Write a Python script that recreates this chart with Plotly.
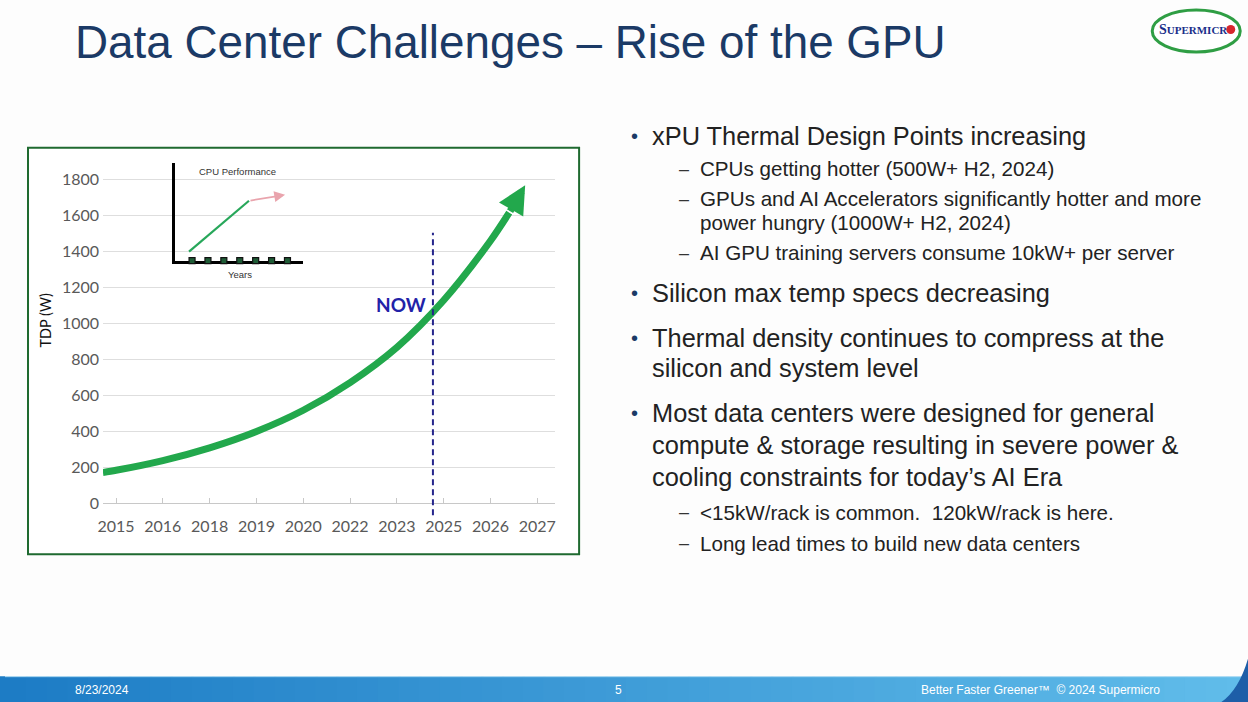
import plotly.graph_objects as go

W, H = 1248, 702

# small calibration so that slide pixel positions land where the screenshot shows them
OFF_X, SCALE_X, SCALE_Y = 5.0, 0.995, 0.987


def px(x):
    return (x - OFF_X) / SCALE_X / W


def py(y):
    return 1 - (y / SCALE_Y) / H


# ---- main chart data ----
year_labels = ["2015", "2016", "2018", "2019", "2020", "2022", "2023", "2025", "2026", "2027"]
tdp_ticks = [0, 200, 400, 600, 800, 1000, 1200, 1400, 1600, 1800]
curve_pos = [-0.28, 0, 1, 2, 3, 4, 5, 6, 7, 8, 8.4]
curve_tdp = [172, 184, 238, 309, 400, 518, 672, 868, 1130, 1461, 1617]
arrow_tip_pos = 8.74
arrow_tip_tdp = 1770
now_pos = 6.77
now_top_tdp = 1506
now_label_tdp = 1105

# ---- inset (CPU performance) data ----
inset_years = [0, 1, 2, 3, 4, 5, 6]
inset_base = [0, 0, 0, 0, 0, 0, 0]
cpu_perf_x = [-0.19, 3.58]
cpu_perf_y = [0.92, 6.12]
cpu_slow_tip_x = 5.85
cpu_slow_tip_y = 6.73

# ---- slide text ----
title_text = "Data Center Challenges – Rise of the GPU"
bullet_levels = [0, 1, 1, 1, 1, 0, 0, 0, 0, 0, 0, 1, 1]
bullet_marks = [True, True, True, False, True, True, True, False, True, False, False, True, True]
bullet_texts = [
    "xPU Thermal Design Points increasing",
    "CPUs getting hotter (500W+ H2, 2024)",
    "GPUs and AI Accelerators significantly hotter and more",
    "power hungry (1000W+ H2, 2024)",
    "AI GPU training servers consume 10kW+ per server",
    "Silicon max temp specs decreasing",
    "Thermal density continues to compress at the",
    "silicon and system level",
    "Most data centers were designed for general",
    "compute &amp; storage resulting in severe power &amp;",
    "cooling constraints for today’s AI Era",
    "&lt;15kW/rack is common.&nbsp; 120kW/rack is here.",
    "Long lead times to build new data centers",
]
footer_date = "8/23/2024"
footer_page = "5"
footer_right = "Better Faster Greener™&nbsp; © 2024 Supermicro"

GREEN = "#22a84c"
TICK_FONT = dict(family="Lato, Open Sans, sans-serif", size=16, color="#595959")
SANS = "Liberation Sans, Arial, sans-serif"

fig = go.Figure()

fig.add_trace(go.Scatter(
    x=curve_pos, y=curve_tdp, mode="lines",
    line=dict(color=GREEN, width=7, shape="spline", smoothing=0.8),
    xaxis="x", yaxis="y", hoverinfo="skip",
))
fig.add_trace(go.Scatter(
    x=cpu_perf_x, y=cpu_perf_y, mode="lines",
    line=dict(color="#27a75a", width=2.2),
    xaxis="x2", yaxis="y2", hoverinfo="skip",
))
fig.add_trace(go.Scatter(
    x=inset_years, y=inset_base, mode="markers",
    marker=dict(symbol="square", size=6, color="#1f5c36", line=dict(color="#111111", width=1.2)),
    xaxis="x2", yaxis="y2", cliponaxis=False, hoverinfo="skip",
))

shapes = []
# chart frame
shapes.append(dict(type="rect", xref="paper", yref="paper",
                   x0=px(28), x1=px(579), y0=py(554), y1=py(147),
                   line=dict(color="#1f6a30", width=2), fillcolor="white", layer="below"))

# NOW line
y_dom = [py(503), py(170)]
y_max = 1850
now_top_paper = y_dom[0] + now_top_tdp / y_max * (y_dom[1] - y_dom[0])
shapes.append(dict(type="line", xref="x", yref="paper",
                   x0=now_pos, x1=now_pos, y0=py(515), y1=now_top_paper,
                   line=dict(color="#25258c", width=2, dash="6px,4px")))

# footer band with stepped gradient
n_strips = 60
c0 = (29, 124, 197)
c1 = (96, 188, 234)
for i in range(n_strips):
    t = i / (n_strips - 1)
    col = "rgb(%d,%d,%d)" % tuple(round(a + (b - a) * t) for a, b in zip(c0, c1))
    shapes.append(dict(type="rect", xref="paper", yref="paper",
                       x0=i / n_strips - 0.01 * (i == 0), x1=(i + 1) / n_strips + 0.002, y0=-0.02, y1=py(676),
                       line=dict(width=0), fillcolor=col, layer="above"))
shapes.append(dict(type="line", xref="paper", yref="paper", x0=0, x1=1, y0=py(676.5), y1=py(676.5),
                   line=dict(color="#b8e0f5", width=1), layer="above"))
shapes.append(dict(type="path", xref="paper", yref="paper",
                   path="M %f,%f Q %f,%f %f,%f L %f,%f Z" % (
                       px(1221), py(702), px(1241), py(688), px(1250), py(650), px(1250), py(702)),
                   fillcolor="#1d5ea8", line=dict(width=0), layer="above"))

# logo
shapes.append(dict(type="circle", xref="paper", yref="paper",
                   x0=px(1152), x1=px(1240), y0=py(51), y1=py(9),
                   line=dict(color="#2f9e44", width=3), fillcolor="white"))
shapes.append(dict(type="circle", xref="paper", yref="paper",
                   x0=px(1226), x1=px(1235), y0=py(33), y1=py(24),
                   line=dict(width=0), fillcolor="#d6262d"))

annotations = []
# curve arrow head
annotations.append(dict(x=arrow_tip_pos, y=arrow_tip_tdp, ax=curve_pos[-1], ay=curve_tdp[-1],
                        xref="x", yref="y", axref="x", ayref="y", text="", showarrow=True,
                        arrowhead=2, arrowsize=0.8, arrowwidth=7, arrowcolor=GREEN, standoff=0))
# NOW label
annotations.append(dict(x=now_pos, y=now_label_tdp, xref="x", yref="y", xanchor="right", yanchor="middle",
                        xshift=-5, text="<b>NOW</b>", showarrow=False,
                        font=dict(family="Lato, Open Sans, sans-serif", size=19, color="#2222a8")))
# y axis title
annotations.append(dict(x=px(46), y=py(320), xref="paper", yref="paper", xanchor="center", yanchor="middle",
                        text="TDP (W)", textangle=-90, showarrow=False,
                        font=dict(family="Lato, Open Sans, sans-serif", size=14.5, color="#111111")))
# inset arrow + labels
annotations.append(dict(x=cpu_slow_tip_x, y=cpu_slow_tip_y, ax=cpu_perf_x[-1], ay=cpu_perf_y[-1],
                        xref="x2", yref="y2", axref="x2", ayref="y2", text="", showarrow=True,
                        arrowhead=2, arrowsize=1.2, arrowwidth=1.8, arrowcolor="#e9a4ad", standoff=0))
annotations.append(dict(x=px(237), y=py(171), xref="paper", yref="paper", xanchor="center", yanchor="middle",
                        text="CPU Performance", showarrow=False,
                        font=dict(family=SANS, size=9.5, color="#333333")))
annotations.append(dict(x=px(240), y=py(274), xref="paper", yref="paper", xanchor="center", yanchor="middle",
                        text="Years", showarrow=False,
                        font=dict(family=SANS, size=9.5, color="#333333")))

# title
annotations.append(dict(x=px(73), y=py(42), xref="paper", yref="paper", xanchor="left", yanchor="middle",
                        text=title_text, showarrow=False,
                        font=dict(family=SANS, size=45.8, color="#1b3a66")))

# bullets
line_y = [135, 168, 198, 222, 252, 292, 337, 367, 413, 445, 477, 512, 543]
for level, mark, txt, yy in zip(bullet_levels, bullet_marks, bullet_texts, line_y):
    size = 25.4 if level == 0 else 20.6
    text_x = 650 if level == 0 else 698
    if mark:
        annotations.append(dict(x=px(634 if level == 0 else 684), y=py(yy), xref="paper", yref="paper",
                                xanchor="center", yanchor="middle", showarrow=False,
                                text="•" if level == 0 else "–",
                                font=dict(family=SANS, size=20 if level == 0 else 18,
                                          color="#1b3a66" if level == 0 else "#333333")))
    annotations.append(dict(x=px(text_x), y=py(yy), xref="paper", yref="paper", xanchor="left", yanchor="middle",
                            text=txt, showarrow=False,
                            font=dict(family=SANS, size=size, color="#222222")))

# logo text
annotations.append(dict(x=px(1193), y=py(29), xref="paper", yref="paper", xanchor="center", yanchor="middle",
                        showarrow=False, text="<b><span style='font-size:14px'>S</span>UPERMICR</b>",
                        font=dict(family="Liberation Serif, Times New Roman, serif", size=11, color="#1b2f8a")))

# footer text
footer_font = dict(family="Liberation Sans Narrow, Liberation Sans, Arial, sans-serif", size=12, color="white")
annotations.append(dict(x=px(102), y=py(690), xref="paper", yref="paper", xanchor="center", yanchor="middle",
                        text=footer_date, showarrow=False, font=footer_font))
annotations.append(dict(x=px(618), y=py(690), xref="paper", yref="paper", xanchor="center", yanchor="middle",
                        text=footer_page, showarrow=False, font=footer_font))
annotations.append(dict(x=px(1162), y=py(690), xref="paper", yref="paper", xanchor="right", yanchor="middle",
                        text=footer_right, showarrow=False, font=footer_font))

fig.update_layout(
    width=W, height=H, autosize=False,
    margin=dict(l=0, r=0, t=0, b=0),
    paper_bgcolor="#fdfdfd", plot_bgcolor="rgba(0,0,0,0)",
    showlegend=False,
    xaxis=dict(domain=[px(103), px(555)], range=[-0.278, 9.38],
               tickvals=list(range(len(year_labels))), ticktext=year_labels,
               ticks="inside", ticklen=5, tickcolor="#c8c8c8",
               showline=True, linecolor="#c8c8c8", linewidth=1,
               showgrid=False, zeroline=False, tickfont=TICK_FONT, ticklabelstandoff=8,
               fixedrange=True),
    yaxis=dict(domain=y_dom, range=[0, y_max], tickvals=tdp_ticks,
               showgrid=True, gridcolor="#dedede", gridwidth=1, zeroline=False,
               ticks="", tickfont=TICK_FONT, ticklabelstandoff=3, fixedrange=True),
    xaxis2=dict(domain=[px(175), px(303)], range=[-1.07, 6.98], anchor="y2",
                showgrid=False, zeroline=False, showticklabels=False,
                showline=True, linecolor="black", linewidth=2.5, layer="below traces"),
    yaxis2=dict(domain=[py(260), py(162)], range=[0, 10], anchor="x2",
                showgrid=False, zeroline=False, showticklabels=False,
                showline=True, linecolor="black", linewidth=2.5, layer="below traces"),
    shapes=shapes,
    annotations=annotations,
)

# pin the figure to the top-left corner of the window so no page margin shifts it
pin_js = (
    "document.documentElement.style.overflow='hidden';"
    "document.body.style.margin='0px';document.body.style.overflow='hidden';"
    "var gd=document.querySelector('.plotly-graph-div');"
    "gd.style.position='fixed';gd.style.left='0px';gd.style.top='0px';"
)

fig.write_html("out.html", config={"displayModeBar": False}, post_script=pin_js)
